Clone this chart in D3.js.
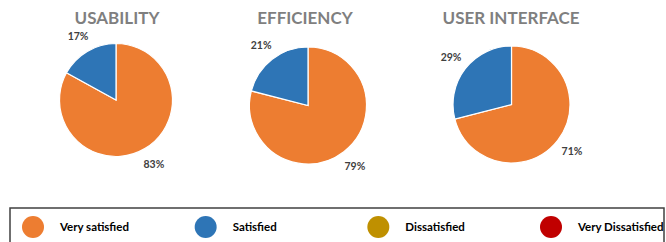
<!DOCTYPE html>
<html><head><meta charset="utf-8">
<script src="https://cdn.jsdelivr.net/npm/d3@7"></script>
<style>html,body{margin:0;padding:0;background:#fff;overflow:hidden}</style>
</head><body>
<svg id="c" width="666" height="242"></svg>
<script>
const charts = ["USABILITY", "EFFICIENCY", "USER INTERFACE"];
const categories = ["Very satisfied", "Satisfied", "Dissatisfied", "Very Dissatisfied"];
const verySatisfied = [83, 79, 71];
const satisfied = [17, 21, 29];
const dissatisfied = [0, 0, 0];
const veryDissatisfied = [0, 0, 0];
const colors = ["#ED7D31", "#2E75B6", "#BF9000", "#C00000"];

const svg = d3.select("#c");
const centers = [[116, 100], [308, 105.5], [511.5, 104.5]];
const radii = [56.5, 58.5, 58.5];
const titleX = [117, 305, 511];

const pie = d3.pie().sort(null).value(d => d.v);
const color = d3.scaleOrdinal().domain(categories).range(colors);

charts.forEach((name, i) => {
  const data = categories.map((c, k) => ({c, v: [verySatisfied, satisfied, dissatisfied, veryDissatisfied][k][i]}));
  const arcs = pie(data).filter(a => a.data.v > 0);
  const r = radii[i];
  const g = svg.append("g").attr("transform", `translate(${centers[i][0]},${centers[i][1]})`);
  const arc = d3.arc().innerRadius(0).outerRadius(r);
  g.selectAll("path").data(arcs).join("path")
    .attr("d", arc).attr("fill", d => color(d.data.c))
    .attr("stroke", "#fff").attr("stroke-width", 1.2);
  const lab = d3.arc().innerRadius(r + 18).outerRadius(r + 18);
  g.selectAll("text").data(arcs).join("text")
    .attr("transform", d => {
      const [x, y] = lab.centroid({startAngle: d.startAngle, endAngle: d.endAngle});
      return `translate(${x},${y})`;
    })
    .attr("text-anchor", "middle").attr("dy", "0.35em")
    .attr("font-family", "Lato, 'Open Sans', sans-serif").attr("font-weight", "bold")
    .attr("font-size", 10.5).attr("fill", "#404040")
    .text(d => d.data.v + "%");
  svg.append("text").attr("x", titleX[i]).attr("y", 24)
    .attr("text-anchor", "middle")
    .attr("font-family", "Lato, 'Open Sans', sans-serif").attr("font-weight", "bold")
    .attr("font-size", 17).attr("fill", "#7F7F7F").text(name);
});

// legend
svg.append("rect").attr("x", 10).attr("y", 208).attr("width", 654).attr("height", 60)
  .attr("fill", "none").attr("stroke", "#404040").attr("stroke-width", 1.5);
const lx = d3.scalePoint().domain(categories).range([33, 551]);
const lg = svg.selectAll("g.leg").data(categories).join("g").attr("class", "leg")
  .attr("transform", d => `translate(${lx(d)},227)`);
lg.append("circle").attr("r", 11).attr("fill", d => color(d));
lg.append("text").attr("x", 27).attr("dy", "0.35em")
  .attr("font-family", "Lato, 'Open Sans', sans-serif").attr("font-weight", "bold")
  .attr("font-size", 11.5).attr("fill", "#000").text(d => d);
</script>
</body></html>
